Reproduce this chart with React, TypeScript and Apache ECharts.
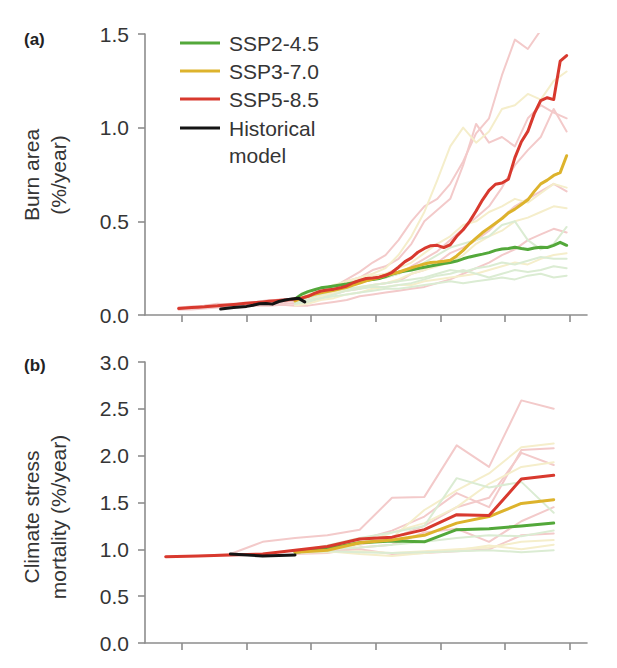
import React, { useEffect, useRef } from "react";
import * as echarts from "echarts";

// ---------- Panel (a): burn area (%/year), smoothed annual series ----------
const burnRedStart = 1979; // SSP5-8.5 ensemble mean (incl. historical run), every 2 years
const burnRed = [
  0.035, 0.038, 0.04, 0.042, 0.044, 0.047, 0.049, 0.052, 0.055, 0.058, 0.061,
  0.064, 0.067, 0.07, 0.073, 0.076, 0.079, 0.082, 0.085, 0.09, 0.1, 0.115,
  0.128, 0.133, 0.138, 0.145, 0.155, 0.172, 0.185, 0.195, 0.198, 0.202, 0.212,
  0.228, 0.255, 0.285, 0.305, 0.335, 0.355, 0.37, 0.372, 0.36, 0.375, 0.42,
  0.455, 0.5, 0.555, 0.615, 0.665, 0.698, 0.705, 0.725, 0.84, 0.925, 0.98,
  1.075, 1.145, 1.16, 1.15, 1.355, 1.385,
];
const burnScenStart = 2015; // SSP2-4.5 / SSP3-7.0 means, every 2 years
const burnYellow = [
  0.075, 0.09, 0.1, 0.11, 0.118, 0.125, 0.132, 0.14, 0.148, 0.16, 0.17, 0.182,
  0.192, 0.2, 0.212, 0.22, 0.228, 0.24, 0.252, 0.262, 0.272, 0.28, 0.283,
  0.287, 0.292, 0.315, 0.345, 0.38, 0.41, 0.44, 0.465, 0.49, 0.515, 0.545,
  0.565, 0.59, 0.615, 0.66, 0.7, 0.72, 0.745, 0.76, 0.85,
];
const burnGreen = [
  0.085, 0.11, 0.125, 0.135, 0.145, 0.15, 0.155, 0.16, 0.165, 0.172, 0.18,
  0.185, 0.19, 0.195, 0.205, 0.218, 0.228, 0.235, 0.24, 0.248, 0.255, 0.262,
  0.268, 0.275, 0.28, 0.288, 0.3, 0.31, 0.318, 0.325, 0.333, 0.345, 0.352,
  0.355, 0.362, 0.355, 0.35, 0.358, 0.362, 0.36, 0.372, 0.388, 0.372,
];
const burnHistStart = 1992; // historical model, every 2 years
const burnHist = [
  0.032, 0.036, 0.04, 0.043, 0.046, 0.052, 0.06, 0.062, 0.058, 0.072, 0.08,
  0.086, 0.09, 0.07,
];

// individual ensemble members, every 4 years
const burnMemberPinkStart = 1979;
const burnPink = [
  [0.04, 0.045, 0.05, 0.06, 0.055, 0.065, 0.07, 0.075, 0.085, 0.08, 0.1, 0.12,
   0.15, 0.19, 0.23, 0.28, 0.32, 0.4, 0.5, 0.58, 0.62, 0.7, 0.82, 0.97, 1.05,
   1.28, 1.47, 1.42, 1.52, 1.65, 1.75],
  [0.035, 0.04, 0.05, 0.055, 0.06, 0.06, 0.07, 0.08, 0.08, 0.07, 0.1, 0.13,
   0.14, 0.18, 0.2, 0.24, 0.26, 0.3, 0.38, 0.5, 0.56, 0.62, 0.8, 1.02, 0.92,
   0.95, 0.9, 1.05, 1.12, 1.08, 1.05],
  [0.04, 0.04, 0.045, 0.05, 0.055, 0.06, 0.065, 0.07, 0.075, 0.08, 0.09, 0.11,
   0.13, 0.15, 0.17, 0.19, 0.2, 0.22, 0.26, 0.3, 0.34, 0.4, 0.46, 0.52, 0.58,
   0.68, 0.8, 0.88, 0.95, 1.1, 0.98],
  [0.03, 0.035, 0.04, 0.045, 0.05, 0.05, 0.055, 0.06, 0.065, 0.06, 0.07, 0.09,
   0.11, 0.13, 0.14, 0.16, 0.17, 0.18, 0.22, 0.24, 0.28, 0.33, 0.36, 0.4, 0.45,
   0.52, 0.58, 0.62, 0.66, 0.7, 0.66],
  [0.03, 0.03, 0.035, 0.04, 0.04, 0.045, 0.05, 0.05, 0.055, 0.05, 0.05, 0.06,
   0.07, 0.08, 0.1, 0.11, 0.12, 0.13, 0.14, 0.15, 0.17, 0.19, 0.22, 0.25, 0.28,
   0.32, 0.35, 0.4, 0.43, 0.46, 0.44],
];
const burnMemberScenStart = 2015;
const burnYellowMembers = [
  [0.08, 0.11, 0.13, 0.16, 0.18, 0.2, 0.22, 0.25, 0.32, 0.42, 0.55, 0.72, 0.9,
   1.0, 0.92, 0.98, 1.1, 1.12, 1.18, 1.15, 1.25, 1.3],
  [0.07, 0.09, 0.12, 0.14, 0.17, 0.19, 0.21, 0.22, 0.25, 0.28, 0.33, 0.38,
   0.42, 0.48, 0.5, 0.55, 0.58, 0.62, 0.6, 0.65, 0.7, 0.68],
  [0.06, 0.08, 0.1, 0.12, 0.13, 0.15, 0.16, 0.17, 0.19, 0.22, 0.24, 0.26,
   0.28, 0.32, 0.38, 0.42, 0.45, 0.5, 0.52, 0.55, 0.58, 0.57],
  [0.05, 0.06, 0.08, 0.09, 0.11, 0.12, 0.14, 0.15, 0.16, 0.16, 0.18, 0.19,
   0.2, 0.21, 0.22, 0.24, 0.26, 0.28, 0.27, 0.3, 0.32, 0.33],
];
const burnGreenMembers = [
  [0.08, 0.1, 0.12, 0.14, 0.16, 0.18, 0.19, 0.2, 0.22, 0.25, 0.28, 0.32, 0.36,
   0.38, 0.4, 0.42, 0.48, 0.5, 0.4, 0.35, 0.38, 0.47],
  [0.07, 0.09, 0.11, 0.13, 0.14, 0.15, 0.16, 0.17, 0.18, 0.19, 0.2, 0.22,
   0.24, 0.23, 0.25, 0.26, 0.28, 0.27, 0.29, 0.31, 0.3, 0.3],
  [0.06, 0.08, 0.09, 0.1, 0.11, 0.12, 0.13, 0.14, 0.14, 0.15, 0.16, 0.17,
   0.18, 0.17, 0.18, 0.19, 0.2, 0.19, 0.21, 0.22, 0.2, 0.21],
  [0.06, 0.07, 0.09, 0.11, 0.13, 0.14, 0.15, 0.15, 0.16, 0.17, 0.19, 0.21,
   0.22, 0.24, 0.22, 0.2, 0.22, 0.24, 0.23, 0.24, 0.26, 0.25],
];

// ---------- Panel (b): climate stress mortality (%/year), decadal means ----------
const mortRedStart = 1975;
const mortRed = [0.92, 0.93, 0.94, 0.95, 0.99, 1.03, 1.11, 1.13, 1.21, 1.37, 1.36, 1.75, 1.79];
const mortScenStart = 2015;
const mortYellow = [0.97, 0.99, 1.07, 1.1, 1.15, 1.28, 1.35, 1.49, 1.53];
const mortGreen = [0.97, 1.01, 1.07, 1.09, 1.08, 1.21, 1.22, 1.25, 1.28];
const mortHistStart = 1995;
const mortHist = [0.95, 0.93, 0.94];

const mortPinkFirstStart = 1975;
const mortPinkFirst = [0.92, 0.93, 0.95, 1.08, 1.12, 1.15, 1.21, 1.55, 1.56, 2.11, 1.88, 2.59, 2.5];
const mortPink = [
  [0.98, 1.02, 1.1, 1.2, 1.35, 1.6, 1.45, 2.06, 2.08],
  [0.97, 1.0, 1.05, 1.12, 1.25, 1.45, 1.55, 2.03, 1.9],
  [0.96, 0.98, 1.0, 0.95, 0.96, 0.98, 1.0, 1.15, 1.17],
  [0.95, 0.96, 1.02, 1.05, 1.18, 1.22, 1.08, 1.3, 1.45],
];
const mortYellowMembers = [
  [0.99, 1.02, 1.08, 1.12, 1.42, 1.63, 1.81, 2.09, 2.13],
  [0.98, 1.0, 1.05, 1.18, 1.28, 1.45, 1.7, 1.88, 1.93],
  [0.97, 0.97, 0.98, 0.96, 0.98, 1.0, 1.02, 1.08, 1.1],
  [0.96, 0.98, 0.95, 0.93, 0.96, 0.99, 1.04, 1.0, 1.05],
];
const mortGreenMembers = [
  [0.98, 1.04, 1.12, 1.18, 1.25, 1.76, 1.66, 1.72, 1.39],
  [0.97, 1.0, 1.02, 1.05, 1.08, 1.12, 1.15, 1.14, 1.2],
  [0.96, 0.98, 0.97, 0.96, 0.97, 0.98, 0.99, 0.97, 0.99],
];

// ---------- Axis ticks / labels ----------
const xTickYears = [1980, 2000, 2020, 2040, 2060, 2080, 2100];
const burnTicks = [0, 0.5, 1.0, 1.5];
const mortTicks = [0, 0.5, 1.0, 1.5, 2.0, 2.5, 3.0];

const legendItems = ["SSP2-4.5", "SSP3-7.0", "SSP5-8.5", "Historical\nmodel"];

const C = {
  green: "#53a83a",
  yellow: "#ddb32c",
  red: "#d8392e",
  black: "#141414",
  pinkFaint: "#f3caca",
  yellowFaint: "#f5eecb",
  greenFaint: "#dbecd3",
  axis: "#8d8d8d",
  text: "#353535",
};
const FONT = "'Liberation Sans', Arial, Helvetica, sans-serif";

function pairs(start: number, step: number, values: number[]) {
  return values.map((v, i) => [start + i * step, v]);
}

function line(data: number[][], color: string, width: number, idx: number, z = 2) {
  return {
    type: "line",
    xAxisIndex: idx,
    yAxisIndex: idx,
    data,
    showSymbol: false,
    symbol: "none",
    clip: true,
    z,
    lineStyle: { color, width, cap: "round", join: "round" },
    silent: true,
  };
}

export default function App() {
  const ref = useRef<HTMLDivElement>(null);

  useEffect(() => {
    if (!ref.current) return;
    const chart = echarts.init(ref.current, undefined, { renderer: "svg" });

    const xAxis = (gridIndex: number) => ({
      type: "value",
      gridIndex,
      min: 1968.6,
      max: 2105.3,
      axisLine: { show: true, lineStyle: { color: C.axis, width: 1.6 } },
      axisTick: {
        show: true,
        customValues: xTickYears,
        length: 7,
        lineStyle: { color: C.axis, width: 1.6 },
      },
      axisLabel: { show: false },
      splitLine: { show: false },
    });
    const yAxis = (gridIndex: number, max: number, ticks: number[]) => ({
      type: "value",
      gridIndex,
      min: 0,
      max,
      interval: 0.5,
      axisLine: { show: true, lineStyle: { color: C.axis, width: 1.6 } },
      axisTick: {
        show: true,
        customValues: ticks,
        length: 7,
        lineStyle: { color: C.axis, width: 1.6 },
      },
      axisLabel: {
        customValues: ticks,
        formatter: (v: number) => v.toFixed(1),
        color: C.text,
        fontSize: 21,
        fontFamily: FONT,
        margin: 16,
      },
      splitLine: { show: false },
    });

    const series: any[] = [];
    // panel (a) members
    burnPink.forEach((m) => series.push(line(pairs(burnMemberPinkStart, 4, m), C.pinkFaint, 2, 0)));
    burnYellowMembers.forEach((m) => series.push(line(pairs(burnMemberScenStart, 4, m), C.yellowFaint, 2, 0)));
    burnGreenMembers.forEach((m) => series.push(line(pairs(burnMemberScenStart, 4, m), C.greenFaint, 2, 0)));
    // panel (a) means
    series.push(line(pairs(burnScenStart, 2, burnGreen), C.green, 3, 0, 5));
    series.push(line(pairs(burnScenStart, 2, burnYellow), C.yellow, 3, 0, 5));
    series.push(line(pairs(burnRedStart, 2, burnRed), C.red, 3, 0, 5));
    series.push(line(pairs(burnHistStart, 2, burnHist), C.black, 3, 0, 6));

    // panel (b) members
    series.push(line(pairs(mortPinkFirstStart, 10, mortPinkFirst), C.pinkFaint, 2, 1));
    mortPink.forEach((m) => series.push(line(pairs(mortScenStart, 10, m), C.pinkFaint, 2, 1)));
    mortYellowMembers.forEach((m) => series.push(line(pairs(mortScenStart, 10, m), C.yellowFaint, 2, 1)));
    mortGreenMembers.forEach((m) => series.push(line(pairs(mortScenStart, 10, m), C.greenFaint, 2, 1)));
    // panel (b) means
    series.push(line(pairs(mortScenStart, 10, mortGreen), C.green, 3, 1, 5));
    series.push(line(pairs(mortScenStart, 10, mortYellow), C.yellow, 3, 1, 5));
    series.push(line(pairs(mortRedStart, 10, mortRed), C.red, 3, 1, 5));
    series.push(line(pairs(mortHistStart, 10, mortHist), C.black, 3, 1, 6));

    // legend: sample stroke with its label; first text line centred on the stroke
    const legendColors = [C.green, C.yellow, C.red, C.black];
    const legendRows = [43, 71, 99, 128];
    const legendGraphics: any[] = [];
    legendItems.forEach((name, i) => {
      legendGraphics.push({
        type: "line",
        shape: { x1: 180, y1: legendRows[i], x2: 220, y2: legendRows[i] },
        style: { stroke: legendColors[i], lineWidth: 3 },
      });
      legendGraphics.push({
        type: "text",
        x: 229,
        y: legendRows[i] - 13.5,
        style: {
          text: name,
          fill: C.text,
          font: `21px ${FONT}`,
          lineHeight: 27,
          verticalAlign: "top",
          align: "left",
        },
      });
    });

    chart.setOption({
      animation: false,
      backgroundColor: "#ffffff",
      grid: [
        { left: 145, top: 34, width: 442, height: 281 },
        { left: 145, top: 362, width: 442, height: 281 },
      ],
      xAxis: [xAxis(0), xAxis(1)],
      yAxis: [yAxis(0, 1.5, burnTicks), yAxis(1, 3.0, mortTicks)],
      series,
      graphic: [
        {
          type: "text",
          x: 24,
          y: 39,
          style: { text: "(a)", font: `bold 17px ${FONT}`, fill: "#222", verticalAlign: "middle" },
        },
        {
          type: "text",
          x: 24,
          y: 365,
          style: { text: "(b)", font: `bold 17px ${FONT}`, fill: "#222", verticalAlign: "middle" },
        },
        {
          type: "text",
          x: 45,
          y: 175,
          rotation: Math.PI / 2,
          style: {
            text: "Burn area\n(%/year)",
            font: `21px ${FONT}`,
            fill: C.text,
            lineHeight: 27,
            align: "center",
            verticalAlign: "middle",
          },
        },
        {
          type: "text",
          x: 45,
          y: 517,
          rotation: Math.PI / 2,
          style: {
            text: "Climate stress\nmortality (%/year)",
            font: `21px ${FONT}`,
            fill: C.text,
            lineHeight: 27,
            align: "center",
            verticalAlign: "middle",
          },
        },
        ...legendGraphics,
      ],
    });

    return () => chart.dispose();
  }, []);

  return (
    <div
      ref={ref}
      style={{ position: "fixed", left: 0, top: 0, width: 617, height: 668, background: "#fff" }}
    />
  );
}
